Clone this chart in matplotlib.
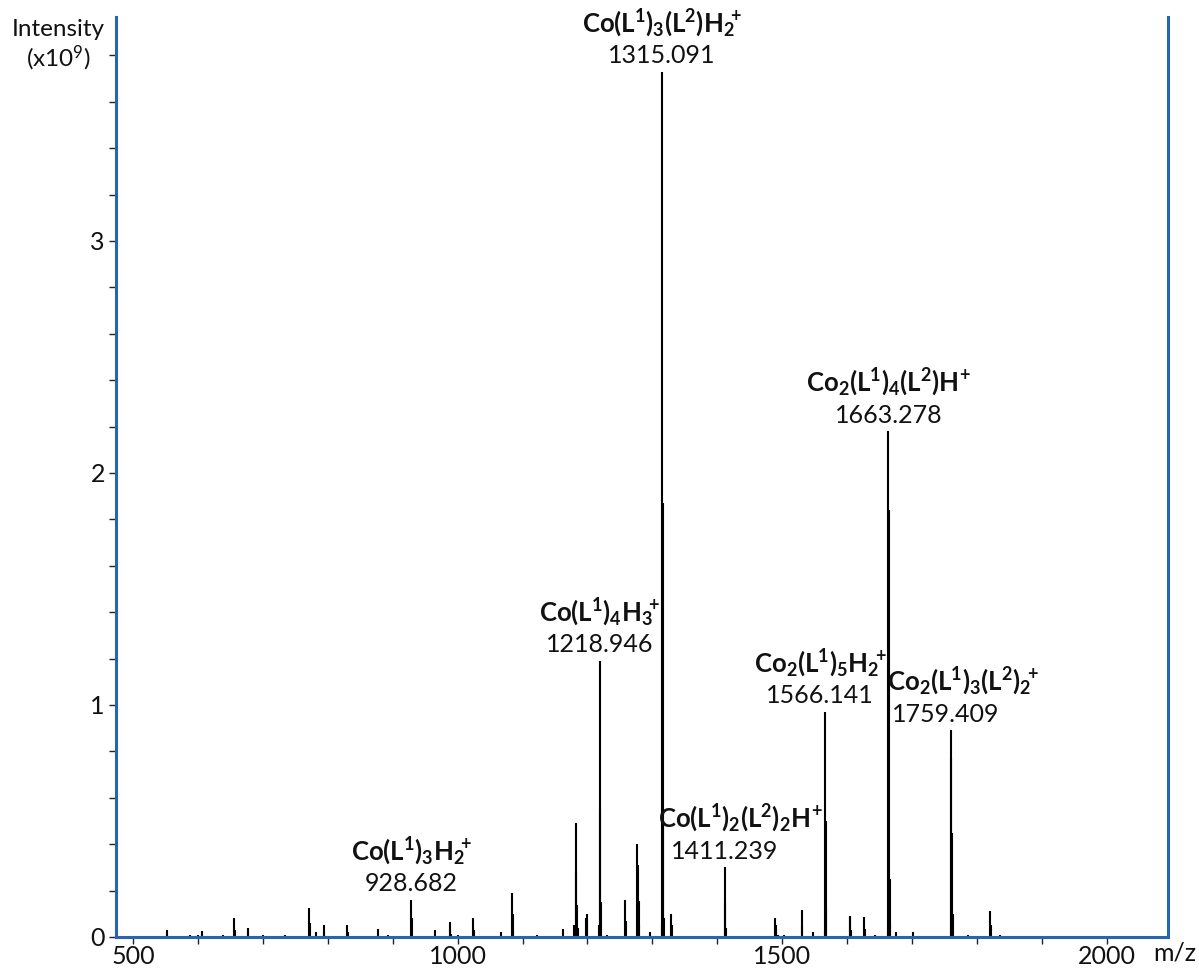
import numpy as np
import matplotlib
matplotlib.use('Agg')
import matplotlib.pyplot as plt
from matplotlib.ticker import MultipleLocator

plt.rcParams['font.family'] = ['Lato', 'DejaVu Sans']
plt.rcParams['mathtext.fontset'] = 'custom'
plt.rcParams['mathtext.rm'] = 'Lato'
plt.rcParams['mathtext.bf'] = 'Lato:bold'
plt.rcParams['mathtext.it'] = 'Lato:italic'

# ---------------- spectrum sticks (m/z, intensity x1e9) ----------------
mz = [552, 553, 588, 600, 606, 639, 656, 657, 677, 678, 700, 734,
      771, 772, 782, 794, 795, 830, 831, 877, 893,
      928.7, 929.7, 966, 988, 989, 990, 1000, 1024, 1025, 1067,
      1084, 1085, 1086, 1122, 1162, 1180,
      1182, 1183, 1184, 1185, 1198, 1199, 1200,
      1217.9, 1218.9, 1219.9, 1220.9, 1230, 1258, 1259,
      1277, 1278, 1279, 1280, 1296, 1297,
      1314.1, 1315.1, 1316.1, 1317.1, 1318.1, 1329, 1330,
      1411.2, 1412.2, 1413.2, 1489, 1490, 1491, 1493, 1503,
      1530, 1531, 1547, 1565.1, 1566.1, 1567.1, 1568.1,
      1604, 1605, 1606, 1626, 1627, 1643,
      1662.3, 1663.3, 1664.3, 1665.3, 1666.3, 1675, 1701,
      1759.4, 1760.4, 1761.4, 1762.4, 1786, 1820, 1821, 1836]
intensity = [0.03, 0.015, 0.01, 0.01, 0.025, 0.01, 0.08, 0.03, 0.04, 0.02, 0.01, 0.01,
             0.125, 0.06, 0.02, 0.05, 0.02, 0.05, 0.02, 0.035, 0.01,
             0.16, 0.08, 0.03, 0.065, 0.035, 0.015, 0.01, 0.08, 0.03, 0.02,
             0.19, 0.10, 0.03, 0.01, 0.035, 0.05,
             0.49, 0.28, 0.14, 0.04, 0.08, 0.10, 0.07,
             0.05, 1.19, 0.55, 0.15, 0.01, 0.16, 0.07,
             0.40, 0.31, 0.155, 0.05, 0.02, 0.01,
             0.05, 3.73, 1.87, 0.50, 0.08, 0.10, 0.05,
             0.30, 0.15, 0.04, 0.08, 0.05, 0.03, 0.01, 0.01,
             0.115, 0.05, 0.02, 0.03, 0.97, 0.50, 0.13,
             0.09, 0.09, 0.03, 0.085, 0.035, 0.01,
             0.02, 2.18, 1.84, 0.25, 0.06, 0.02, 0.02,
             0.89, 0.77, 0.45, 0.10, 0.01, 0.11, 0.05, 0.01]

# ---------------- labelled peaks ----------------
label_mz = [928.7, 1218.9, 1315.1, 1411.2, 1566.1, 1663.3, 1759.4]
label_top = [0.16, 1.19, 3.73, 0.30, 0.97, 2.18, 0.89]
label_formula = [r'$\mathbf{Co(L^1)_3H_2\!\!{}^+}$',
                 r'$\mathbf{Co(L^1)_4H_3\!\!{}^+}$',
                 r'$\mathbf{Co(L^1)_3(L^2)H_2\!\!{}^+}$',
                 r'$\mathbf{Co(L^1)_2(L^2)_2H^{\!+}}$',
                 r'$\mathbf{Co_2(L^1)_5H_2\!\!{}^+}$',
                 r'$\mathbf{Co_2(L^1)_4(L^2)H^{\!+}}$',
                 r'$\mathbf{Co_2(L^1)_3(L^2)_2\!\!{}^+}$']
label_value = ['928.682', '1218.946', '1315.091', '1411.239',
               '1566.141', '1663.278', '1759.409']
# horizontal shifts (pixels) of formula / value text relative to the peak
formula_dx = [0, 0, 0, 16, -5, 0, 12]
value_dx = [0, 0, 0, 0, -5, 0, -5]

spine_col = '#2765b3'
tick_col = '#222222'
text_col = '#111111'

fig = plt.figure(figsize=(11.99, 9.69), dpi=100)
ax = fig.add_axes([116 / 1199, 1 - 937 / 969, (1168 - 116) / 1199, (937 - 17) / 969])

ax.vlines(mz, 0, intensity, color='black', lw=1.5)

ax.set_xlim(474, 2094)
ax.set_ylim(0, 3.965)

ax.xaxis.set_major_locator(MultipleLocator(500))
ax.xaxis.set_minor_locator(MultipleLocator(100))
ax.yaxis.set_major_locator(MultipleLocator(1))
ax.yaxis.set_minor_locator(MultipleLocator(0.2))

ax.tick_params(axis='both', which='both', direction='out', color=tick_col,
               length=5, width=1, labelsize=18, labelcolor=text_col)
ax.tick_params(axis='x', pad=1)
ax.tick_params(axis='y', pad=3)

ax.spines['top'].set_visible(False)
for s in ['left', 'right', 'bottom']:
    ax.spines[s].set_color(spine_col)
    ax.spines[s].set_linewidth(2.2)

for x, top, form, val, fdx, vdx in zip(label_mz, label_top, label_formula,
                                       label_value, formula_dx, value_dx):
    ax.annotate(val, xy=(x, top), xytext=(vdx, 16), textcoords='offset pixels',
                ha='center', va='center', fontsize=18, color=text_col)
    ax.annotate(form, xy=(x, top), xytext=(fdx, 49), textcoords='offset pixels',
                ha='center', va='center', fontsize=18.5, color=text_col)

fig.text(58 / 1199, 1 - 30 / 969, 'Intensity', ha='center', va='center',
         fontsize=17.5, color=text_col)
fig.text(58 / 1199, 1 - 58 / 969, r'(x10$^{\mathrm{9}}$)', ha='center', va='center',
         fontsize=17.5, color=text_col)
fig.text(1175 / 1199, 1 - 953 / 969, 'm/z', ha='center', va='center',
         fontsize=18, color=text_col)

plt.savefig('out.png', dpi=100)
